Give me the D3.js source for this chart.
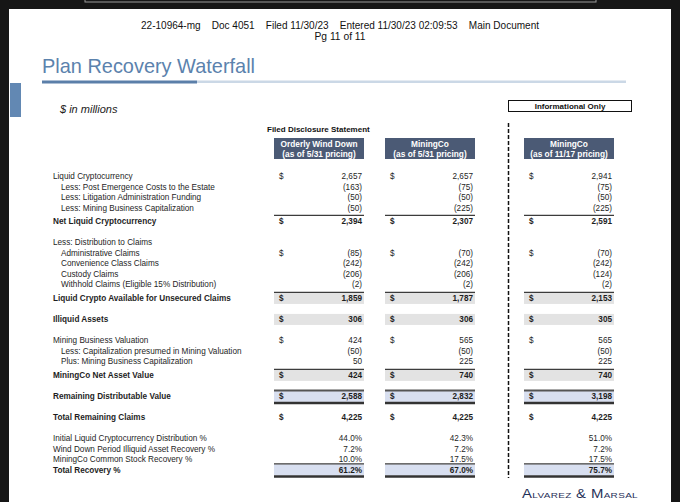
<!DOCTYPE html>
<html><head><meta charset="utf-8">
<script src="https://cdn.jsdelivr.net/npm/d3@7"></script>
<style>
html,body{margin:0;padding:0;background:#161616;}
svg{display:block;font-family:"Liberation Sans",Arial,sans-serif;}
</style>
</head><body>
<svg id="c" width="680" height="502"></svg>
<script>
// ---------------- DATA ----------------
const docHeader = "22-10964-mg    Doc 4051    Filed 11/30/23    Entered 11/30/23 02:09:53    Main Document";
const docPage = "Pg 11 of 11";
const title = "Plan Recovery Waterfall";
const unitsNote = "$ in millions";
const groupLabel = "Filed Disclosure Statement";
const infoLabel = "Informational Only";
const columnTitles = ["Orderly Wind Down", "MiningCo", "MiningCo"];
const columnSubtitles = ["(as of 5/31 pricing)", "(as of 5/31 pricing)", "(as of 11/17 pricing)"];
const rowLabels = [
  "Liquid Cryptocurrency",
  "Less: Post Emergence Costs to the Estate",
  "Less: Litigation Administration Funding",
  "Less: Mining Business Capitalization",
  "Net Liquid Cryptocurrency",
  "Less: Distribution to Claims",
  "Administrative Claims",
  "Convenience Class Claims",
  "Custody Claims",
  "Withhold Claims (Eligible 15% Distribution)",
  "Liquid Crypto Available for Unsecured Claims",
  "Illiquid Assets",
  "Mining Business Valuation",
  "Less: Capitalization presumed in Mining Valuation",
  "Plus: Mining Business Capitalization",
  "MiningCo Net Asset Value",
  "Remaining Distributable Value",
  "Total Remaining Claims",
  "Initial Liquid Cryptocurrency Distribution %",
  "Wind Down Period Illiquid Asset Recovery %",
  "MiningCo Common Stock Recovery %",
  "Total Recovery %"
];
const orderlyWindDown531 = [2657, -163, -50, -50, 2394, null, -85, -242, -206, -2, 1859, 306, 424, -50, 50, 424, 2588, 4225, 0.440, 0.072, 0.100, 0.612];
const miningCo531        = [2657, -75, -50, -225, 2307, null, -70, -242, -206, -2, 1787, 306, 565, -50, 225, 740, 2832, 4225, 0.423, 0.072, 0.175, 0.670];
const miningCo1117       = [2941, -75, -50, -225, 2591, null, -70, -242, -124, -2, 2153, 305, 565, -50, 225, 740, 3198, 4225, 0.510, 0.072, 0.175, 0.757];
const dollarRows = [0, 4, 6, 10, 11, 12, 15, 16, 17];
const percentRows = [18, 19, 20, 21];
const logoText = "Alvarez & Marsal";

// ---------------- LAYOUT / STYLE ----------------
const series = [orderlyWindDown531, miningCo531, miningCo1117];
const indentRows = new Set([1, 2, 3, 6, 7, 8, 9, 13, 14]);
const boldRows = new Set([4, 10, 11, 15, 16, 17, 21]);
const grayRows = new Set([10, 11, 15]);
const blueRows = new Set([16, 21]);
const thinTopRows = new Set([4, 10, 15, 21]);
const thickTopRows = new Set([16]);
const thickBottomRows = new Set([16, 21]);
// extra vertical units before each row (layout only)
const gapBefore = [0, 0, 0, 0, 0.33, 1, 0, 0, 0, 0, 0.33, 1, 1, 0, 0, 0.33, 1, 1, 1, 0, 0, 0];
let acc = -1;
const slots = gapBefore.map(g => (acc += 1 + g));

const y = d3.scaleLinear().domain([0, 1]).range([176, 186.5]);
const colLeft = d3.scaleOrdinal().domain([0, 1, 2]).range([274, 385, 524]);
const colW = 90;
const FS = 8.2;

const svg = d3.select("#c");
const TXT = "#1e1e1e";

// page
svg.append("rect").attr("x", 9).attr("y", 9).attr("width", 662).attr("height", 500).attr("fill", "#ffffff");
svg.append("rect").attr("x", 85).attr("y", -4).attr("width", 511).attr("height", 6)
  .attr("fill", "none").attr("stroke", "#9a9a9a").attr("stroke-width", 1);

// document header
svg.append("text").attr("x", 340).attr("y", 29).attr("text-anchor", "middle")
  .attr("font-size", 11.5).attr("fill", "#111").attr("textLength", 398).attr("lengthAdjust", "spacingAndGlyphs")
  .style("white-space", "pre").text(docHeader);
svg.append("text").attr("x", 340).attr("y", 40).attr("text-anchor", "middle")
  .attr("font-size", 11.5).attr("fill", "#111").attr("textLength", 51).attr("lengthAdjust", "spacingAndGlyphs")
  .text(docPage);

// title
svg.append("text").attr("x", 42).attr("y", 73).attr("font-size", 21).attr("fill", "#5b82ad")
  .attr("textLength", 213).attr("lengthAdjust", "spacingAndGlyphs").text(title);
svg.append("rect").attr("x", 197).attr("y", 80.5).attr("width", 429).attr("height", 2.5).attr("fill", "#cbd8e6");
svg.append("rect").attr("x", 42).attr("y", 80.5).attr("width", 155).attr("height", 3).attr("fill", "#5b7fa9");
svg.append("rect").attr("x", 10).attr("y", 83).attr("width", 11).attr("height", 34).attr("fill", "#6288b3");

svg.append("text").attr("x", 60).attr("y", 113).attr("font-size", 11).attr("font-style", "italic")
  .attr("fill", "#222").text(unitsNote);

// informational only box
svg.append("rect").attr("x", 508.5).attr("y", 100.5).attr("width", 123).attr("height", 11)
  .attr("fill", "#fff").attr("stroke", "#111").attr("stroke-width", 1);
svg.append("text").attr("x", 570).attr("y", 109).attr("text-anchor", "middle").attr("font-size", 8)
  .attr("font-weight", "bold").attr("fill", "#111").text(infoLabel);

// group label
svg.append("text").attr("x", 267).attr("y", 132).attr("font-size", 8).attr("font-weight", "bold")
  .attr("fill", "#111").text(groupLabel);

// dashed divider
svg.append("line").attr("x1", 508.5).attr("x2", 508.5).attr("y1", 123).attr("y2", 478)
  .attr("stroke", "#111").attr("stroke-width", 1.5).attr("stroke-dasharray", "4,2");

// column header boxes
const hdr = svg.selectAll("g.hdr").data(columnTitles).join("g").attr("class", "hdr");
hdr.append("rect").attr("x", (d, i) => colLeft(i)).attr("y", 138).attr("width", colW).attr("height", 21)
  .attr("fill", "#4b5a75");
hdr.append("text").attr("x", (d, i) => colLeft(i) + colW / 2).attr("y", 147).attr("text-anchor", "middle")
  .attr("font-size", 8.3).attr("font-weight", "bold").attr("fill", "#fff").text(d => d);
hdr.append("text").attr("x", (d, i) => colLeft(i) + colW / 2).attr("y", 156.5).attr("text-anchor", "middle")
  .attr("font-size", 8.3).attr("font-weight", "bold").attr("fill", "#fff").text((d, i) => columnSubtitles[i]);

// shading and rules
series.forEach((vals, c) => {
  const g = svg.append("g");
  rowLabels.forEach((lab, r) => {
    const yy = y(slots[r]);
    const x0 = colLeft(c);
    if (grayRows.has(r) || blueRows.has(r)) {
      g.append("rect").attr("x", x0).attr("y", yy - 5.5).attr("width", colW).attr("height", 11)
        .attr("fill", grayRows.has(r) ? "#e3e3e3" : "#d8dff0");
    }
    if (thinTopRows.has(r)) {
      g.append("line").attr("x1", x0).attr("x2", x0 + colW).attr("y1", yy - 6).attr("y2", yy - 6)
        .attr("stroke", "#3c3c3c").attr("stroke-width", 1.3);
    }
    if (thickTopRows.has(r)) {
      g.append("line").attr("x1", x0).attr("x2", x0 + colW).attr("y1", yy - 6).attr("y2", yy - 6)
        .attr("stroke", "#555").attr("stroke-width", 2);
    }
    if (thickBottomRows.has(r)) {
      g.append("line").attr("x1", x0).attr("x2", x0 + colW).attr("y1", yy + 6.5).attr("y2", yy + 6.5)
        .attr("stroke", "#333").attr("stroke-width", 2.5);
    }
  });
});

// row labels
svg.append("g").selectAll("text").data(rowLabels).join("text")
  .attr("x", (d, i) => indentRows.has(i) ? 61 : 53)
  .attr("y", (d, i) => y(slots[i]) + 3)
  .attr("font-size", FS)
  .attr("font-weight", (d, i) => boldRows.has(i) ? "bold" : "normal")
  .attr("fill", TXT)
  .text(d => d);

// values
const fmtNum = v => v < 0 ? "(" + d3.format(",")(-v) + ")" : d3.format(",")(v);
const fmtPct = d3.format(".1%");
series.forEach((vals, c) => {
  const g = svg.append("g");
  const cells = vals.map((v, r) => ({ v, r })).filter(d => d.v !== null);
  g.selectAll("text.v").data(cells).join("text").attr("class", "v")
    .attr("x", colLeft(c) + colW - 2)
    .attr("y", d => y(slots[d.r]) + 3)
    .attr("text-anchor", "end")
    .attr("font-size", FS)
    .attr("font-weight", d => boldRows.has(d.r) ? "bold" : "normal")
    .attr("fill", TXT)
    .text(d => percentRows.includes(d.r) ? fmtPct(d.v) : fmtNum(d.v));
  g.selectAll("text.d").data(dollarRows).join("text").attr("class", "d")
    .attr("x", colLeft(c) + 5)
    .attr("y", r => y(slots[r]) + 3)
    .attr("font-size", FS)
    .attr("font-weight", r => boldRows.has(r) ? "bold" : "normal")
    .attr("fill", TXT)
    .text("$");
});

// logo
svg.append("text").attr("x", 522).attr("y", 497.5).attr("font-size", 12)
  .attr("fill", "#1f2f57").style("font-variant", "small-caps").attr("letter-spacing", 0.3)
  .attr("textLength", 116).attr("lengthAdjust", "spacingAndGlyphs").text(logoText);

// frame
svg.append("rect").attr("x", 0).attr("y", 0).attr("width", 9).attr("height", 502).attr("fill", "#161616");
svg.append("rect").attr("x", 671).attr("y", 0).attr("width", 9).attr("height", 502).attr("fill", "#161616");
</script>
</body></html>
